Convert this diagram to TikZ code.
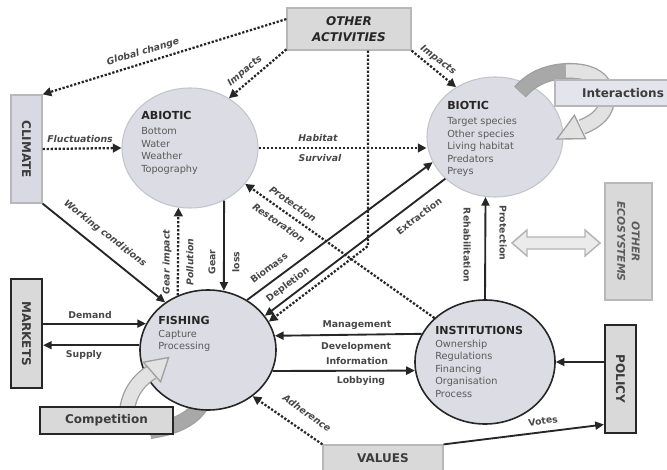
\documentclass[tikz,border=0pt]{standalone}
\usepackage{fontspec}
\setmainfont{DejaVu Sans}
\usetikzlibrary{shapes.geometric,arrows.meta,calc}
\definecolor{circfill}{HTML}{DCDCE4}
\definecolor{circedge}{HTML}{C4C4CC}
\definecolor{boxfill}{HTML}{D9D9D9}
\definecolor{boxedge}{HTML}{B8B8B8}
\definecolor{climfill}{HTML}{D9D9E4}
\definecolor{ink}{HTML}{262626}
\definecolor{txtgray}{HTML}{5A5A5A}
\definecolor{bandlight}{HTML}{E2E2E2}
\definecolor{banddark}{HTML}{A8A8A8}
\definecolor{bandedge}{HTML}{A0A0A0}
\newcommand\ctitle[1]{{\fontsize{8.3}{10}\selectfont\bfseries\color{ink}#1}}
\begin{document}
\begin{tikzpicture}[x=0.75pt,y=-0.75pt,
 lightcirc/.style={ellipse, fill=circfill, draw=circedge, line width=0.8pt, inner sep=0pt},
 darkcirc/.style={ellipse, fill=circfill, draw=ink, line width=1.2pt, inner sep=0pt},
 lightbox/.style={rectangle, fill=boxfill, draw=boxedge, line width=0.9pt, inner sep=0pt},
 darkbox/.style={rectangle, fill=boxfill, draw=ink, line width=1.6pt, inner sep=0pt},
 dotarr/.style={draw=ink, line width=1.7pt, dash pattern=on 1.7pt off 1.3pt, -{Triangle[length=6.5pt,width=6.5pt]}},
 solarr/.style={draw=ink, line width=1.4pt, -{Triangle[length=6.5pt,width=6pt]}},
 lbl/.style={font=\fontsize{7}{8}\selectfont\bfseries, text=ink!85, inner sep=0.5pt},
 ilbl/.style={lbl, font=\fontsize{7}{8}\selectfont\bfseries\itshape},
 ctext/.style={align=left, anchor=north west, inner sep=0pt, text=txtgray, font=\fontsize{7.3}{9.4}\selectfont},
 boxtxt/.style={font=\fontsize{9}{12}\selectfont\bfseries, text=ink!90, inner sep=0pt},
 bandout/.style={draw=bandedge, line width=12pt},
 bandin/.style={draw=bandlight, line width=10pt},
 banddk/.style={draw=banddark, line width=10pt},
]
\useasboundingbox (0,0) rectangle (667,470);

% competition dark band (behind fishing)
\draw[bandout] (206,392) .. controls (202,412) and (185,426) .. (150,431);
\draw[banddk] (206,392) .. controls (202,412) and (185,426) .. (150,431);

% circles
\node[lightcirc, minimum width=102pt, minimum height=90pt] (abiotic) at (190,148) {};
\node[lightcirc, minimum width=102pt, minimum height=90pt] (biotic) at (495,137) {};
\node[darkcirc, minimum width=102pt, minimum height=90pt] (fishing) at (208,350) {};
\node[darkcirc, minimum width=105pt, minimum height=93pt] (institutions) at (485,362) {};

\node[ctext] (abiotictxt) at (141,111) {\ctitle{ABIOTIC}\\[2pt]Bottom\\Water\\Weather\\Topography};
\node[ctext] (biotictxt) at (447,101) {\ctitle{BIOTIC}\\[2pt]Target species\\Other species\\Living habitat\\Predators\\Preys};
\node[ctext] (fishingtxt) at (158,316) {\ctitle{FISHING}\\[0pt]Capture\\Processing};
\node[ctext] (insttxt) at (435,326) {\ctitle{INSTITUTIONS}\\[0pt]Ownership\\Regulations\\Financing\\Organisation\\Process};

% boxes
\node[lightbox, minimum width=93pt, minimum height=31.5pt, align=center, font=\fontsize{9}{12}\selectfont\bfseries\itshape, text=ink] (oa) at (349,29) {OTHER\\ACTIVITIES};
\node[lightbox, fill=climfill, minimum width=23.25pt, minimum height=81pt] (climate) at (26.5,149) {};
\node[boxtxt, rotate=-90] (climatetxt) at (climate.center) {CLIMATE};
\node[darkbox, minimum width=23.25pt, minimum height=81.75pt] (markets) at (26.5,333.5) {};
\node[boxtxt, rotate=-90] (marketstxt) at (markets.center) {MARKETS};
\node[darkbox, minimum width=23.25pt, minimum height=81pt] (policy) at (620.5,379) {};
\node[boxtxt, rotate=-90] (policytxt) at (policy.center) {POLICY};
\node[lightbox, minimum width=35.25pt, minimum height=87.75pt] (oeco) at (628.5,241.5) {};
\node[boxtxt, rotate=-90, align=center, font=\fontsize{8}{11}\selectfont\bfseries\itshape, text=ink!75] (oecotxt) at (oeco.center) {OTHER\\ECOSYSTEMS};
\node[lightbox, boxtxt, minimum width=90pt, minimum height=20.25pt] (values) at (383,458.5) {VALUES};

% double arrow to other ecosystems
\filldraw[fill=bandlight!70, draw=bandedge!80, line width=1.1pt]
 (512,243) -- (527,230) -- (527,237) -- (585,237) -- (585,230) -- (600,243)
 -- (585,256) -- (585,249) -- (527,249) -- (527,256) -- cycle;

% connectors
\coordinate (j) at (368,246);
\draw[dotarr] (oa.171.7) -- (climate.north east);
\node[ilbl, rotate=16.5] (lgc) at (143,52) {Global change};
\draw[dotarr] (oa.198) -- (abiotic.52);
\node[ilbl, rotate=40] (limp1) at (245,71) {Impacts};
\draw[dotarr] (oa.south east) -- (biotic.128);
\node[ilbl, rotate=-37] (limp2) at (438,60) {Impacts};
\draw[dotarr] (oa.south -| j) -- (j) -- (fishing.25);
\draw[dotarr] (climate.east) -- (abiotic.west);
\node[ilbl] (lfl) at (80,139) {Fluctuations};
\draw[dotarr] (abiotic.east) -- (abiotic.east -| biotic.west);
\node[ilbl] (lhab) at (318,138) {Habitat};
\node[ilbl] (lsur) at (320,158) {Survival};
\draw[solarr] (climate.south east) -- (fishing.132.7);
\node[ilbl, rotate=-38] (lwc) at (105,234) {Working conditions};
\draw[dotarr] (fishing.119) -- (abiotic.-101);
\node[ilbl, rotate=90] (lgi) at (167,262) {Gear impact};
\node[ilbl, rotate=90] (lpol) at (190,262) {Pollution};
\draw[solarr] (abiotic.-57.8) -- (fishing.75.6);
\node[lbl, rotate=90] (lgear) at (212,262) {Gear};
\node[lbl, rotate=90] (lloss) at (236,262) {loss};
\draw[solarr] (fishing.52) -- (biotic.202);
\node[lbl, rotate=37] (lbio) at (269,268) {Biomass};
\draw[solarr] (biotic.-140) -- (fishing.31);
\node[lbl, rotate=37] (ldep) at (288,285) {Depletion};
\node[lbl, rotate=37] (lext) at (419,216) {Extraction};
\draw[dotarr] (institutions.139) -- (abiotic.-33.7);
\node[ilbl, rotate=-35] (lprot1) at (293,204) {Protection};
\node[ilbl, rotate=-35] (lrest1) at (279,223) {Restoration};
\draw[solarr] (institutions.north) -- (biotic.-99.6);
\node[lbl, rotate=-90] (lreh) at (467,245) {Rehabilitation};
\node[lbl, rotate=-90] (lprot2) at (503,233) {Protection};
\draw[solarr] (fishing.157 -| markets.east) -- (fishing.157);
\node[lbl] (ldem) at (90,315) {Demand};
\draw[solarr] (fishing.176.6) -- (fishing.176.6 -| markets.east);
\node[lbl] (lsup) at (84,355) {Supply};
\draw[solarr] (institutions.156.8) -- (fishing.12.8);
\node[lbl] (lman) at (357,325) {Management};
\node[lbl] (ldev) at (356,347) {Development};
\draw[solarr] (fishing.-18.2) -- (institutions.187.4);
\node[lbl] (linf) at (357,361) {Information};
\node[lbl] (llob) at (361,381) {Lobbying};
\draw[solarr] (institutions.east -| policy.west) -- (institutions.east);
\draw[solarr] (values.north east) -- (policy.250.2);
\node[lbl, rotate=8] (lvot) at (543,421) {Votes};
\draw[dotarr] (values.north west) -- (fishing.-46);
\node[ilbl, rotate=-35] (ladh) at (307,413) {Adherence};

% interactions loop at biotic
\draw[bandout] (520,92) .. controls (532,78) and (548,72) .. (566,71) .. controls (592,70) and (606,80) .. (607,96) .. controls (608,112) and (597,121) .. (582,127);
\draw[banddk] (520,92) .. controls (532,78) and (548,72) .. (566,71);
\draw[bandin] (566,71) .. controls (592,70) and (606,80) .. (607,96) .. controls (608,112) and (597,121) .. (582,127);
\filldraw[fill=bandlight, draw=bandedge, line width=1pt] (557,139) -- (585.6,138.7) -- (574.4,115.3) -- cycle;
\node[lightbox, fill=climfill!70, minimum width=87.75pt, minimum height=19.5pt] (inter) at (613.5,93) {};
\node[boxtxt] (intertxt) at (623,93) {Interactions};

% competition light band
\draw[bandout] (127,412) .. controls (128,395) and (138,380) .. (152,372);
\draw[bandin] (127,412) .. controls (128,395) and (138,380) .. (152,372);
\filldraw[fill=bandlight, draw=bandedge, line width=1pt] (168.6,357.5) -- (160.6,381.8) -- (143.4,362.2) -- cycle;
\node[darkbox, boxtxt, minimum width=99.75pt, minimum height=20.25pt] (comp) at (106.5,420.5) {Competition};
\end{tikzpicture}
\end{document}
